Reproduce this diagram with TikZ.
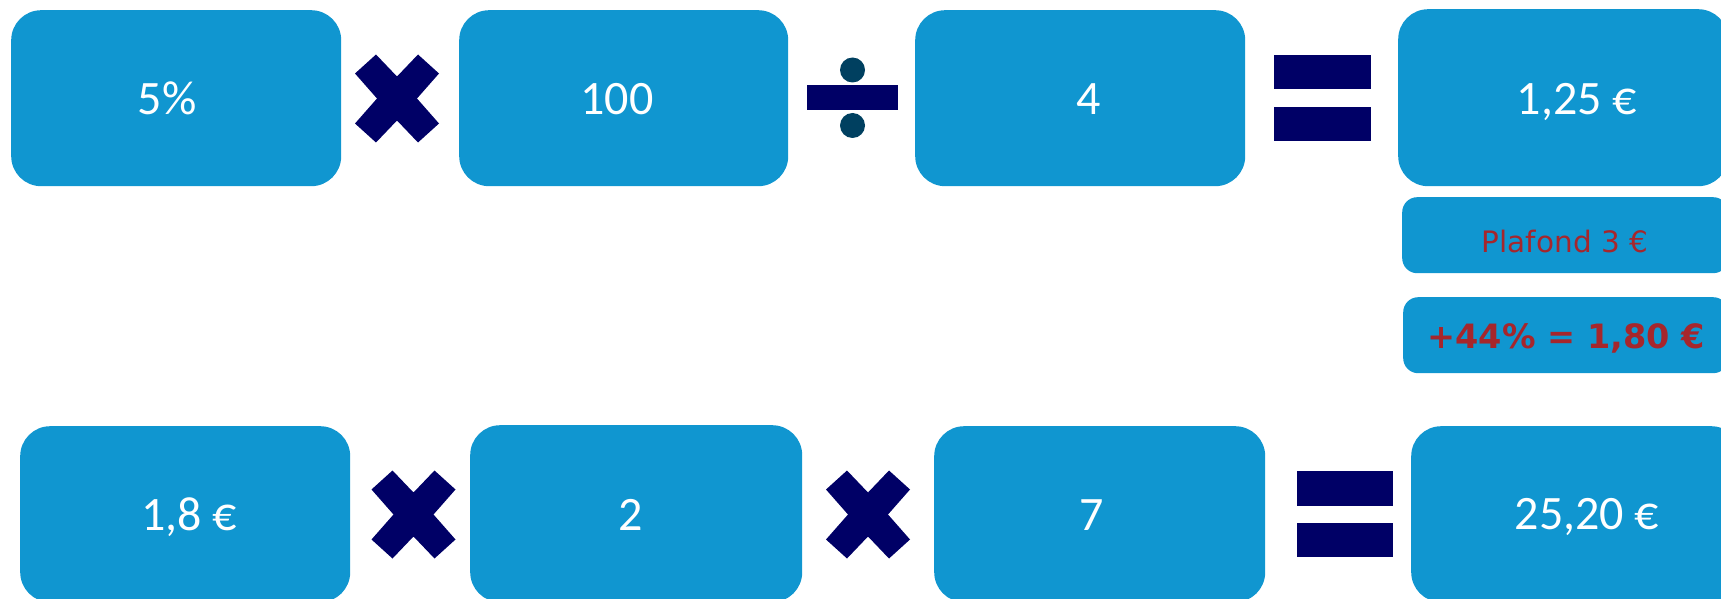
\documentclass[tikz,border=0pt]{standalone}
\usepackage{fontspec}
\setmainfont{Carlito}
\newfontfamily\dvs{DejaVu Sans}
\definecolor{boxblue}{RGB}{16,150,208}
\definecolor{navy}{RGB}{0,0,102}
\definecolor{dotc}{RGB}{0,64,96}
\definecolor{redtxt}{RGB}{166,38,44}
\tikzset{
  box/.style={fill=boxblue, rounded corners=30pt, inner sep=0pt, anchor=north west},
  smallbox/.style={fill=boxblue, rounded corners=15pt, inner sep=0pt, anchor=north west},
  num/.style={text=white, inner sep=0pt, anchor=base, font=\fontsize{48}{58}\selectfont},
  mulsign/.pic={\fill[navy] (-42,-25)--(-21,-44)--(0,-22)--(21,-44)--(42,-25)--(20,0)--(42,25)--(21,44)--(0,22)--(-21,44)--(-42,25)--(-20,0)--cycle;}
}
\begin{document}
\begin{tikzpicture}[x=1pt,y=-1pt]
\useasboundingbox (0,0) rectangle (1721,599);
\clip (0,0) rectangle (1721,599);
% top row boxes
\node[box, minimum width=330pt, minimum height=176pt] (t1) at (11,10) {};
\node[box, minimum width=329pt, minimum height=176pt] (t2) at (459,10) {};
\node[box, minimum width=330pt, minimum height=176pt] (t3) at (915,10) {};
\node[box, minimum width=330pt, minimum height=177pt] (t4) at (1398,9) {};
\node[smallbox, minimum width=326pt, minimum height=76pt] (p1) at (1402,197) {};
\node[smallbox, minimum width=325pt, minimum height=76pt] (p2) at (1403,297) {};
% bottom row boxes
\node[box, minimum width=330pt, minimum height=176pt] (b1) at (20,426) {};
\node[box, minimum width=332pt, minimum height=177pt] (b2) at (470,425) {};
\node[box, minimum width=331pt, minimum height=176pt] (b3) at (934,426) {};
\node[box, minimum width=330pt, minimum height=176pt] (b4) at (1411,426) {};
% texts
\node[num] (t1t) at (167,115) {5\%};
\node[num] (t2t) at (617,115) {100};
\node[num] (t3t) at (1089,115) {4};
\node[num] (t4t) at (1577,115) {1,25 €};
\node[num] (b1t) at (189,530) {1,8 €};
\node[num] (b2t) at (631,530) {2};
\node[num] (b3t) at (1092,530) {7};
\node[num] (b4t) at (1587,529) {25,20 €};
\node[text=redtxt, inner sep=0pt, anchor=base, font=\dvs\fontsize{29.5}{35}\selectfont] (p1t) at (1565,252) {Plafond 3 €};
\node[text=redtxt, inner sep=0pt, anchor=base, font=\dvs\bfseries\fontsize{33.5}{40}\selectfont] (p2t) at (1566,348) {+44\% = 1,80 €};
% operators
\pic at (397,98.5) {mulsign};
\pic at (413.5,514.5) {mulsign};
\pic at (868,514.5) {mulsign};
\fill[navy] (807,85) rectangle (898,110);
\fill[dotc] (852.5,70) circle[radius=12.5pt];
\fill[dotc] (852.5,125.5) circle[radius=12.5pt];
\fill[navy] (1274,55) rectangle (1371,89);
\fill[navy] (1274,107) rectangle (1371,141);
\fill[navy] (1297,471) rectangle (1393,506);
\fill[navy] (1297,523) rectangle (1393,557);
\end{tikzpicture}
\end{document}
